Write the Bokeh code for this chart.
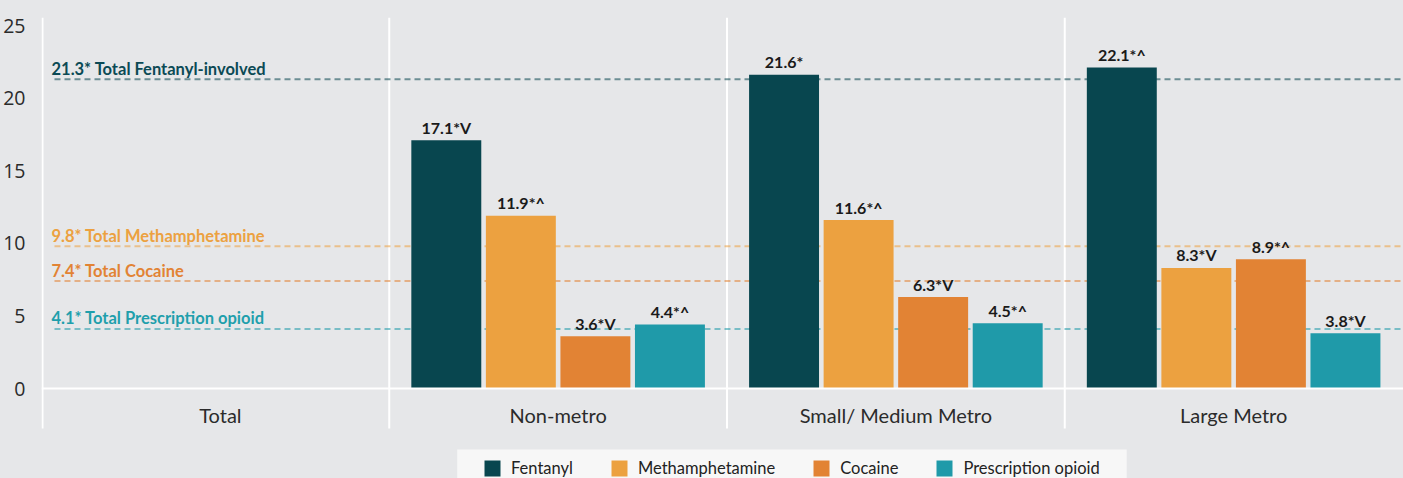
from bokeh.plotting import figure
from bokeh.models import (ColumnDataSource, Range1d, FixedTicker, Legend, LegendItem,
                          GlobalInlineStyleSheet, BoxAnnotation)
from bokeh.embed import file_html
from bokeh.resources import INLINE
from bokeh.core.properties import value

# ---------------- data ----------------
categories = ["Total", "Non-metro", "Small/ Medium Metro", "Large Metro"]
drugs = ["Fentanyl", "Methamphetamine", "Cocaine", "Prescription opioid"]

# values per category (Total has no bars, only reference lines)
fentanyl = [None, 17.1, 21.6, 22.1]
methamphetamine = [None, 11.9, 11.6, 8.3]
cocaine = [None, 3.6, 6.3, 8.9]
prescription_opioid = [None, 4.4, 4.5, 3.8]

fentanyl_flags = ["", "*V", "*", "*^"]
methamphetamine_flags = ["", "*^", "*^", "*V"]
cocaine_flags = ["", "*V", "*V", "*^"]
prescription_opioid_flags = ["", "*^", "*^", "*V"]

totals = [21.3, 9.8, 7.4, 4.1]
total_labels = ["21.3* Total Fentanyl-involved", "9.8* Total Methamphetamine",
                "7.4* Total Cocaine", "4.1* Total Prescription opioid"]

y_ticks = [0, 5, 10, 15, 20, 25]

# ---------------- style ----------------
BG = "#e6e7e9"
colors = ["#08464f", "#eca140", "#e28334", "#1f9aa9"]
label_colors = ["#0b4a55", "#eca140", "#e28334", "#1f9fac"]

W, H = 1403, 478
PX = 338.0           # pixels per category
PY = 14.52           # pixels per y unit
X_START, X_END = 1 - 348 / PX, 1 + 1015 / PX
Y_START, Y_END = -90 / PY, 371 / PY
BAR_W = 70 / PX
STEP = 74.6 / PX
SEP_BOTTOM = -40 / PY
BAR_PAD = 13 / PY
LINE_PAD = 10.5 / PY
LABEL_FONT = "Lato"

p = figure(width=W, height=H, output_backend="svg", toolbar_location=None,
           x_range=Range1d(X_START, X_END), y_range=Range1d(Y_START, Y_END),
           x_axis_location=None, min_border_left=40, min_border_top=17,
           min_border_bottom=0, min_border_right=0)
p.background_fill_color = BG
p.border_fill_color = BG
p.outline_line_color = None
p.xgrid.visible = False
p.ygrid.visible = False
p.stylesheets = [GlobalInlineStyleSheet(css="html, body { background-color: %s; }" % BG)]

ax = p.yaxis[0]
ax.ticker = FixedTicker(ticks=y_ticks)
ax.axis_line_color = None
ax.major_tick_line_color = None
ax.minor_tick_line_color = None
ax.major_label_text_font = "Open Sans"
ax.major_label_text_font_size = "19.5px"
ax.major_label_text_color = "#2b2b2b"
ax.major_label_standoff = 10

# white separators (category boundaries) and left axis line
sep_x = [X_START + 1.0 / PX] + [i for i in range(1, len(categories))]
p.segment(x0=sep_x, x1=sep_x, y0=[SEP_BOTTOM] * len(sep_x), y1=[Y_END] * len(sep_x),
          line_color="white", line_width=2)

# dashed total reference lines
line_x0 = 3 / PX
p.segment(x0=[line_x0] * len(totals), x1=[X_END] * len(totals), y0=totals, y1=totals,
          line_color=colors, line_alpha=0.55, line_width=2, line_dash="6 4")
p.text(x=[0.0] * len(totals), y=[t + LINE_PAD for t in totals], text=total_labels,
       text_color=label_colors, text_font=value(LABEL_FONT), text_font_style="bold",
       text_font_size="16.5px", text_align="left", text_baseline="middle")

# bars
series = [fentanyl, methamphetamine, cocaine, prescription_opioid]
flags = [fentanyl_flags, methamphetamine_flags, cocaine_flags, prescription_opioid_flags]
legend_items = []
for j, (vals, fl) in enumerate(zip(series, flags)):
    xs, tops, ly, labs = [], [], [], []
    for i, v in enumerate(vals):
        if v is None:
            continue
        xs.append(i + 0.5 + (j - 1.5) * STEP)
        tops.append(v)
        ly.append(v + BAR_PAD)
        labs.append(f"{v}{fl[i]}")
    src = ColumnDataSource(dict(x=xs, top=tops, ly=ly, lab=labs))
    r = p.vbar(x="x", top="top", bottom=0, width=BAR_W, source=src,
               fill_color=colors[j], line_color=None)
    p.text(x="x", y="ly", text="lab", source=src, text_color="#1a1a1a",
           text_font=value(LABEL_FONT), text_font_style="bold", text_font_size="16px",
           text_align="center", text_baseline="middle")
    legend_items.append(LegendItem(label=drugs[j], renderers=[r]))

# zero line
p.segment(x0=[X_START], x1=[X_END], y0=[0], y1=[0], line_color="white", line_width=2)

# category labels
p.text(x=[i + 0.5 for i in range(len(categories))], y=[-1.85] * len(categories),
       text=categories, text_color="#2b2b2b", text_font=value("Lato"),
       text_font_size="20px", text_align="center", text_baseline="middle")

# legend box + legend
p.add_layout(BoxAnnotation(left=X_START + 416 / PX, right=X_START + 1086 / PX,
                           top=-(449 - 388) / PY, bottom=Y_START,
                           fill_color="#f7f7f7", fill_alpha=1.0, line_color=None))
legend = Legend(items=legend_items, orientation="horizontal", location=(441, 0),
                glyph_width=20, glyph_height=20, label_standoff=9, spacing=36,
                padding=8, background_fill_alpha=0.0,
                border_line_color=None, label_text_font="Lato",
                label_text_font_size="16.5px", label_text_color="#222222",
                label_height=20, margin=0)
p.add_layout(legend)

open("out.html", "w").write(file_html(p, INLINE))
